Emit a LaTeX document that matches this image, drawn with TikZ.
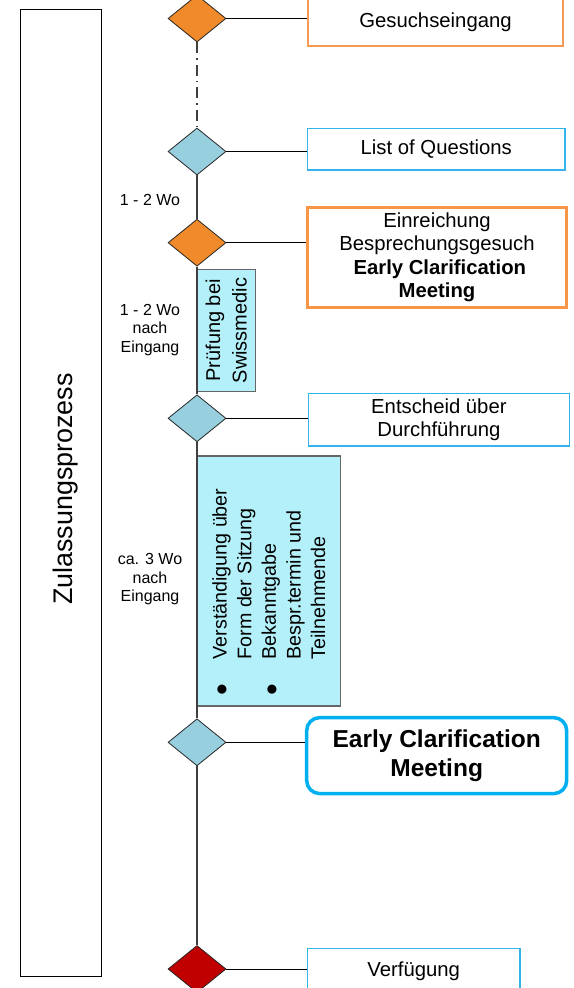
\documentclass[tikz,border=0pt]{standalone}
\usepackage{fontspec}
\usepackage{graphicx}
\setmainfont{Liberation Sans}
\usetikzlibrary{shapes.geometric}
\definecolor{dorange}{HTML}{F08A2B}
\definecolor{dblue}{HTML}{98CFDE}
\definecolor{dred}{HTML}{C00000}
\definecolor{lorange}{HTML}{F79A55}
\definecolor{morange}{HTML}{F79646}
\definecolor{lblue}{HTML}{33B5EB}
\definecolor{ecmblue}{HTML}{00B0F0}
\definecolor{cfill}{HTML}{B4F0F9}
\newcommand{\bigbul}{\raisebox{-7.2pt}{\scalebox{1.7}{\textbullet}}}
\begin{document}
\begin{tikzpicture}[x=1pt,y=-1pt]
\tikzset{
 dia/.style={shape=diamond, draw=black!85, line width=0.8pt, minimum width=58pt, minimum height=47pt, inner sep=0pt},
 box/.style={draw, line width=1.6pt, inner sep=0pt, align=center, font=\fontsize{20.3}{23.3}\selectfont},
 spine/.style={draw=black!75, line width=1.3pt},
 conn/.style={draw=black, line width=0.9pt},
 side/.style={align=center, font=\fontsize{16}{18.7}\selectfont, inner sep=0pt},
 cyanbox/.style={draw=black!60, fill=cfill, line width=1.2pt, inner sep=0pt}
}
\useasboundingbox (0,0) rectangle (573,988);

% left lane
\node[draw=black, line width=1pt, minimum width=81pt, minimum height=966.5pt, inner sep=0pt] (lb) at (60.5,492.75) {};
\node[rotate=90, anchor=base, inner sep=0pt, font=\fontsize{26.9}{30}\selectfont] (lt) at (72.5,489) {Zulassungsprozess};

% boxes
\node[box, draw=lorange, line width=2pt, minimum width=255.6pt, minimum height=47.2pt] (b1) at (435.5,22) {Gesuchseingang};
\node[box, draw=lblue, minimum width=257.3pt, minimum height=41.7pt] (b2) at (436.3,149.2) {List of Questions};
\node[box, draw=morange, line width=3pt, minimum width=259.4pt, minimum height=100pt] (b3) at (437,257.3) {Einreichung\\Besprechungsgesuch\\\hspace*{0.28em}\textbf{Early Clarification}\\\textbf{Meeting}};
\node[box, draw=lblue, minimum width=261pt, minimum height=52.7pt] (b4) at (438.9,419.7) {Entscheid über\\Durchführung};
\node[box, draw=ecmblue, line width=3.5pt, rounded corners=13pt, minimum width=260pt, minimum height=76pt, font=\bfseries\fontsize{24.5}{28.3}\selectfont] (b5) at (436.7,755.6) {Early Clarification\\Meeting};
\node[box, draw=lblue, minimum width=212.7pt, minimum height=45.4pt] (b6) at (413.7,971) {Verfügung};

% cyan boxes
\node[cyanbox, rotate=90, minimum width=122.4pt, minimum height=59pt, align=center, font=\fontsize{20}{26.7}\selectfont] (pb) at (226.2,330.5) {Prüfung bei\\Swissmedic};
\node[cyanbox, minimum width=144pt, minimum height=250pt] (vb) at (268.7,581) {};
\node[rotate=90, inner sep=0pt, font=\fontsize{19.7}{24.6}\selectfont] (vt) at (271,591.9) {\begin{tabular}{@{}l@{\hspace{24.2pt}}l@{}}\bigbul&Verständigung über\\&Form der Sitzung\\\bigbul&Bekanntgabe\\&Bespr.termin und\\&Teilnehmende\end{tabular}};

% diamonds
\node[dia, fill=dorange] (d1) at (197,18.5) {};
\node[dia, fill=dblue] (d2) at (197,151.5) {};
\node[dia, fill=dorange] (d3) at (197,242.7) {};
\node[dia, fill=dblue] (d4) at (197,418.3) {};
\node[dia, fill=dblue] (d5) at (197,742.3) {};
\node[dia, fill=dred] (d6) at (197,969) {};

% side labels
\node[side] (l1) at (150,200) {1 - 2 Wo};
\node[side] (l2) at (150,329.8) {1 - 2 Wo\\nach\\Eingang};
\node[side] (l3) at (150,579.3) {ca. 3 Wo\\nach\\Eingang};

% spine
\draw[spine, dash pattern=on 11pt off 5pt on 1.5pt off 5pt] (d1.south) -- (d2.north);
\draw[spine] (d2.south) -- (d3.north);
\draw[spine] (d3.south) -- (d4.north);
\draw[spine] (d4.south) -- (d5.north);
\draw[spine] (d5.south) -- (d6.north);

% connectors
\draw[conn] (d1.east) -- (d1.east -| b1.west);
\draw[conn] (d2.east) -- (d2.east -| b2.west);
\draw[conn] (d3.east) -- (d3.east -| b3.west);
\draw[conn] (d4.east) -- (d4.east -| b4.west);
\draw[conn] (d5.east) -- (d5.east -| b5.west);
\draw[conn] (d6.east) -- (d6.east -| b6.west);
\end{tikzpicture}
\end{document}
